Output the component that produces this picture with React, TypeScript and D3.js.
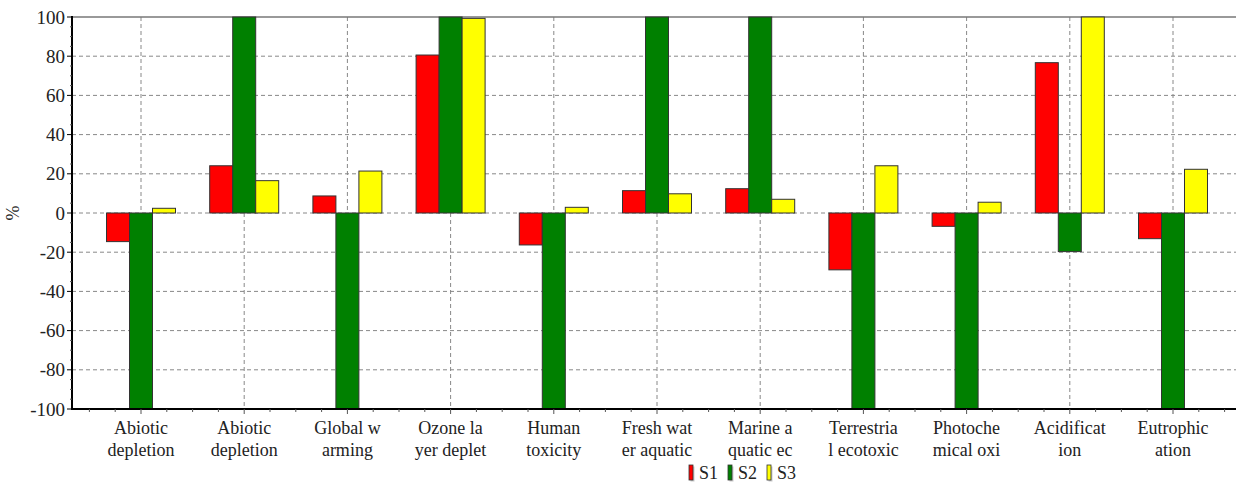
import React from "react";
import * as d3 from "d3";

const categories: string[][] = [
  ["Abiotic", "depletion"],
  ["Abiotic", "depletion"],
  ["Global w", "arming"],
  ["Ozone la", "yer deplet"],
  ["Human", "toxicity"],
  ["Fresh wat", "er aquatic"],
  ["Marine a", "quatic ec"],
  ["Terrestria", "l ecotoxic"],
  ["Photoche", "mical oxi"],
  ["Acidificat", "ion"],
  ["Eutrophic", "ation"],
];
const s1 = [-14.6, 24.1, 8.7, 80.6, -16.3, 11.4, 12.4, -29, -6.8, 76.7, -13.1];
const s2 = [-100, 100, -100, 100, -100, 100, 100, -100, -100, -19.7, -100];
const s3 = [2.4, 16.5, 21.4, 99.3, 2.9, 9.8, 7, 24.1, 5.5, 100, 22.3];
const seriesNames = ["S1", "S2", "S3"];
const colors = ["#ff0000", "#008000", "#ffff00"];
const yTicks = [-100, -80, -60, -40, -20, 0, 20, 40, 60, 80, 100];

const W = 1236;
const H = 484;
const left = 72;
const top = 17;
const bottom = 409;

export default function App() {
  const series = [s1, s2, s3];
  const y = d3.scaleLinear().domain([-100, 100]).range([bottom, top]);
  const step = 103.2;
  const x = d3.scaleLinear().domain([0, 1]).range([141, 141 + step]);
  const barW = 23;
  const fontStyle = {
    fontFamily: "'Times New Roman', Times, 'Liberation Serif', Tinos, 'DejaVu Serif', 'Noto Serif', serif",
  };
  const minorY = d3.range(-100, 101, 5).filter((v) => v % 20 !== 0);
  const minorX: number[] = [];
  for (let i = -2; i <= 11 * 4 + 2; i++) {
    const v = i / 4;
    const px = x(v);
    if (px > left + 2 && px < W) minorX.push(v);
  }
  return (
    <svg width={W} height={H} style={{ position: "absolute", left: 0, top: 0, background: "#fff" }}>
      <rect x={0} y={0} width={W} height={H} fill="#fff" />
      {yTicks
        .filter((t) => t !== 100 && t !== -100)
        .map((t) => (
          <line key={"hg" + t} x1={left} x2={W} y1={y(t)} y2={y(t)} stroke="#888" strokeWidth={1} strokeDasharray="4,3" />
        ))}
      {categories.map((_, i) => (
        <line key={"vg" + i} x1={x(i)} x2={x(i)} y1={top} y2={bottom} stroke="#888" strokeWidth={1} strokeDasharray="4,3" />
      ))}
      <line x1={left} x2={W} y1={top} y2={top} stroke="#777" strokeWidth={1.5} />
      {categories.map((_, i) =>
        series.map((s, k) => {
          const v = s[i];
          const cx = x(i) + (k - 1) * barW;
          const y0 = y(0);
          const y1 = y(v);
          return (
            <rect
              key={"b" + i + "-" + k}
              x={cx - barW / 2}
              y={Math.min(y0, y1)}
              width={barW}
              height={Math.abs(y1 - y0)}
              fill={colors[k]}
              stroke="#333"
              strokeWidth={1}
            />
          );
        })
      )}
      <line x1={left} x2={left} y1={top - 1} y2={bottom + 1} stroke="#000" strokeWidth={2} />
      <line x1={left} x2={W} y1={bottom} y2={bottom} stroke="#000" strokeWidth={2} />
      {yTicks.map((t) => (
        <g key={"yt" + t}>
          <line x1={left - 5} x2={left} y1={y(t)} y2={y(t)} stroke="#000" strokeWidth={1} />
          <text x={left - 7} y={y(t)} dy="0.35em" textAnchor="end" style={fontStyle} fontSize={19} fill="#222">
            {t}
          </text>
        </g>
      ))}
      {minorY.map((t) => (
        <line key={"my" + t} x1={left - 2} x2={left} y1={y(t)} y2={y(t)} stroke="#555" strokeWidth={1} />
      ))}
      {minorX.map((v) => (
        <line
          key={"mx" + v}
          x1={x(v)}
          x2={x(v)}
          y1={bottom}
          y2={bottom + (Number.isInteger(v) ? 5 : 3)}
          stroke="#555"
          strokeWidth={1}
        />
      ))}
      {categories.map((c, i) => (
        <text key={"xl" + i} x={x(i)} textAnchor="middle" style={fontStyle} fontSize={18} fill="#222">
          <tspan x={x(i)} y={434}>{c[0]}</tspan>
          <tspan x={x(i)} y={456}>{c[1]}</tspan>
        </text>
      ))}
      <text
        transform={`translate(19,${y(0)}) rotate(-90)`}
        textAnchor="middle"
        style={fontStyle}
        fontSize={18}
        fill="#222"
      >
        %
      </text>
      {seriesNames.map((n, k) => {
        const lx = [689, 728, 767][k];
        return (
          <g key={"lg" + n}>
            <rect x={lx + 1.5} y={466.5} width={4} height={15} fill="#999" opacity={0.5} />
            <rect x={lx} y={465} width={4} height={15} fill={colors[k]} stroke="#333" strokeWidth={0.8} />
            <text x={lx + 10} y={479} style={fontStyle} fontSize={18} fill="#222">
              {n}
            </text>
          </g>
        );
      })}
    </svg>
  );
}
